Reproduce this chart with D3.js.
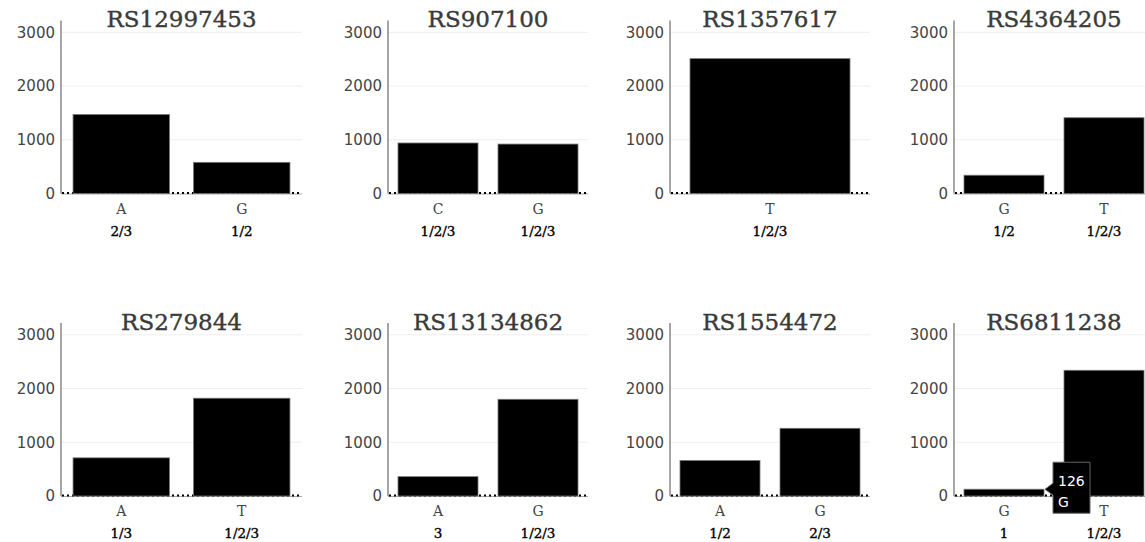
<!DOCTYPE html>
<html>
<head>
<meta charset="utf-8">
<script src="https://cdn.jsdelivr.net/npm/d3@7"></script>
<style>
  body { margin: 0; background: #fff; }
  svg { display: block; }
</style>
</head>
<body>
<svg></svg>
<script>
var WIDTH = 1145;
var HEIGHT = 542;

var titles = ['RS12997453', 'RS907100', 'RS1357617', 'RS4364205',
              'RS279844', 'RS13134862', 'RS1554472', 'RS6811238'];
var alleles = [['A', 'G'], ['C', 'G'], ['T'], ['G', 'T'],
               ['A', 'T'], ['A', 'G'], ['A', 'G'], ['G', 'T']];
var counts = [[1470, 580], [940, 920], [2510], [340, 1410],
              [710, 1820], [360, 1800], [660, 1260], [126, 2340]];
var groups = [['2/3', '1/2'], ['1/2/3', '1/2/3'], ['1/2/3'], ['1/2', '1/2/3'],
              ['1/3', '1/2/3'], ['3', '1/2/3'], ['1/2', '2/3'], ['1', '1/2/3']];
var yTicks = [0, 1000, 2000, 3000];
var hoverPanel = 7;
var hoverIndex = 0;

// layout of the grid (first column is wider in the original page)
var colX = [61, 388, 670, 954];
var colW = [241, 200, 200, 200];
var rowTop = [20.5, 323];
var rowH = 173;

var svg = d3.select('svg')
    .attr('width', WIDTH)
    .attr('height', HEIGHT);

titles.forEach(function(title, i){
    var col = i % 4;
    var row = Math.floor(i / 4);
    var w = colW[col];
    var g = svg.append('g')
        .attr('transform', 'translate(' + colX[col] + ',' + rowTop[row] + ')');

    var yScale = d3.scaleLinear().domain([0, 3220]).range([rowH, 0]);
    var xScale = d3.scaleBand()
        .domain(alleles[i])
        .range([0, w])
        .paddingInner(0.2)
        .paddingOuter(0.1);

    // grid lines
    g.selectAll('line.grid')
        .data(yTicks.slice(1))
        .enter()
        .append('line')
        .attr('class', 'grid')
        .attr('x1', 0).attr('x2', w)
        .attr('y1', function(d){ return yScale(d); })
        .attr('y2', function(d){ return yScale(d); })
        .attr('stroke', '#eeeeee')
        .attr('stroke-width', 1);

    // y axis
    var leftAxis = d3.axisLeft(yScale)
        .tickValues(yTicks)
        .tickFormat(d3.format('d'))
        .tickSize(0)
        .tickPadding(6);
    var ya = g.append('g').call(leftAxis);
    ya.select('.domain').remove();
    ya.selectAll('text')
        .attr('fill', '#444')
        .style('font-family', 'DejaVu Sans, sans-serif')
        .style('font-size', '15px');
    g.append('line')
        .attr('x1', 0).attr('x2', 0)
        .attr('y1', 0).attr('y2', rowH)
        .attr('stroke', '#888').attr('stroke-width', 1.5);

    // baseline
    g.append('line')
        .attr('x1', 0).attr('x2', w)
        .attr('y1', yScale(0) + 0.5).attr('y2', yScale(0) + 0.5)
        .attr('stroke', '#aaa').attr('stroke-width', 1);
    g.append('line')
        .attr('x1', 1).attr('x2', w)
        .attr('y1', yScale(0) - 0.5).attr('y2', yScale(0) - 0.5)
        .attr('stroke', '#000').attr('stroke-width', 2)
        .attr('stroke-dasharray', '2,3');

    // bars
    g.selectAll('rect.bar')
        .data(counts[i])
        .enter()
        .append('rect')
        .attr('class', 'bar')
        .attr('x', function(d, j){ return xScale(alleles[i][j]); })
        .attr('width', xScale.bandwidth())
        .attr('y', function(d){ return yScale(d); })
        .attr('height', function(d){ return yScale(0) - yScale(d); })
        .attr('fill', '#000')
        .attr('stroke', '#777')
        .attr('stroke-width', 0.8);

    // x labels (allele + group)
    var lab = g.selectAll('g.xlab')
        .data(alleles[i])
        .enter()
        .append('g')
        .attr('transform', function(d){
            return 'translate(' + (xScale(d) + xScale.bandwidth() / 2) + ',' + rowH + ')';
        })
        .style('font-family', 'DejaVu Serif, serif')
        .attr('text-anchor', 'middle');
    lab.append('text')
        .attr('y', 20)
        .attr('fill', '#444')
        .style('font-size', '14px')
        .text(function(d){ return d; });
    lab.append('text')
        .attr('y', 42)
        .attr('fill', '#000')
        .attr('stroke', '#000')
        .attr('stroke-width', 0.35)
        .style('font-size', '13.5px')
        .text(function(d, j){ return groups[i][j]; });

    // title
    g.append('text')
        .attr('x', w / 2)
        .attr('y', 6.8)
        .attr('text-anchor', 'middle')
        .attr('fill', '#3a3a3a')
        .attr('stroke', '#3a3a3a')
        .attr('stroke-width', 0.4)
        .style('font-family', 'DejaVu Serif, serif')
        .style('font-size', '23px')
        .text(title);

    // hover label
    if (i === hoverPanel) {
        var hx = xScale(alleles[i][hoverIndex]) + xScale.bandwidth() + 1;
        var hy = yScale(counts[i][hoverIndex]);
        var tip = g.append('g').attr('transform', 'translate(' + hx + ',' + hy + ')');
        tip.append('path')
            .attr('d', 'M0,0 L8,-6 L8,-27 L45,-27 L45,24 L8,24 L8,6 Z')
            .attr('fill', '#000')
            .attr('stroke', '#666')
            .attr('stroke-width', 1);
        tip.append('text')
            .attr('x', 13).attr('y', -3)
            .attr('fill', '#fff')
            .style('font-family', 'DejaVu Sans, sans-serif')
            .style('font-size', '14px')
            .text(counts[i][hoverIndex]);
        tip.append('text')
            .attr('x', 13).attr('y', 18)
            .attr('fill', '#fff')
            .style('font-family', 'DejaVu Sans, sans-serif')
            .style('font-size', '14px')
            .text(alleles[i][hoverIndex]);
    }
});
</script>
</body>
</html>
